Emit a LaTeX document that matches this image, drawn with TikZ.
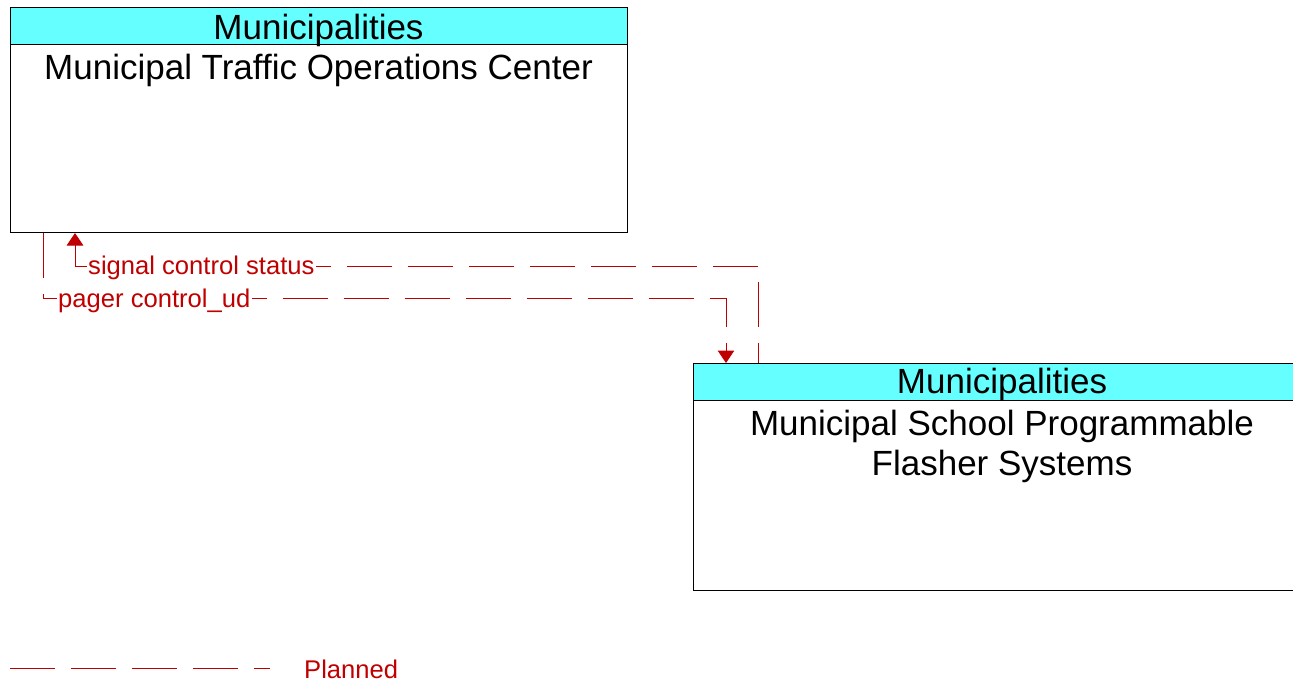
\documentclass[tikz,border=0pt]{standalone}
\usepackage{fontspec}
\setmainfont{Liberation Sans}
\usetikzlibrary{arrows.meta,calc}
\definecolor{hdrcyan}{RGB}{102,255,255}
\definecolor{flowred}{RGB}{192,0,0}
\begin{document}
\begin{tikzpicture}[x=1pt,y=-1pt,
  box/.style={draw=black,line width=1pt,fill=white,minimum width=#1,minimum height=225pt,anchor=north west,inner sep=0pt},
  hdr/.style={draw=black,line width=1pt,fill=hdrcyan,minimum width=#1,minimum height=37pt,anchor=north west,inner sep=0pt},
  bigtext/.style={font=\fontsize{35}{40}\selectfont,inner sep=0pt},
  flow/.style={draw=flowred,line width=1pt,dash pattern=on 45pt off 16pt},
  tip/.style={-{Triangle[width=16.5pt 0 0,length=12.5pt 0 0]}},
  rtip/.style={{Triangle[width=16.5pt 0 0,length=12.5pt 0 0]}-},
  flowlabel/.style={font=\fontsize{25.6}{30}\selectfont,text=flowred,fill=white,inner sep=1.5pt,anchor=base west}
]
\useasboundingbox (0,0) rectangle (1293,683);

% Box 1
\node[box=617pt] (b1) at (10,7) {};
\node[hdr=617pt] (h1) at (10,7) {};
\node[bigtext,anchor=base] (h1t) at (318.5,39) {Municipalities};
\node[bigtext,anchor=base] (b1t) at (318.5,79) {Municipal Traffic Operations Center};

% Box 2
\node[box=618pt,minimum height=227pt] (b2) at (693,363) {};
\node[hdr=618pt] (h2) at (693,363) {};
\node[bigtext,anchor=base] (h2t) at (1002,393) {Municipalities};
\node[bigtext,anchor=north,align=center] (b2t) at (1002,409.5) {Municipal School Programmable\\Flasher Systems};

% Connectors
\draw[flow,dash phase=12.5pt,rtip] ($(b1.south west)+(65,0)$) -- ++(0,33) -| ($(b2.north west)+(65,0)$);
\draw[flow,tip] ($(b1.south west)+(33,0)$) -- ++(0,65.5) -| ($(b2.north west)+(33,0)$);

\node[flowlabel] (ls) at (86.5,274.5) {signal control status};
\node[flowlabel] (lp) at (56.5,307.5) {pager control\_ud};

% Legend
\coordinate (lg) at (10,668.5);
\node[font=\fontsize{25.6}{30}\selectfont,text=flowred,inner sep=0pt,anchor=base west] (plan) at (304,678) {Planned};
\draw[flow] (lg) -- ++(260,0);
\end{tikzpicture}
\end{document}
